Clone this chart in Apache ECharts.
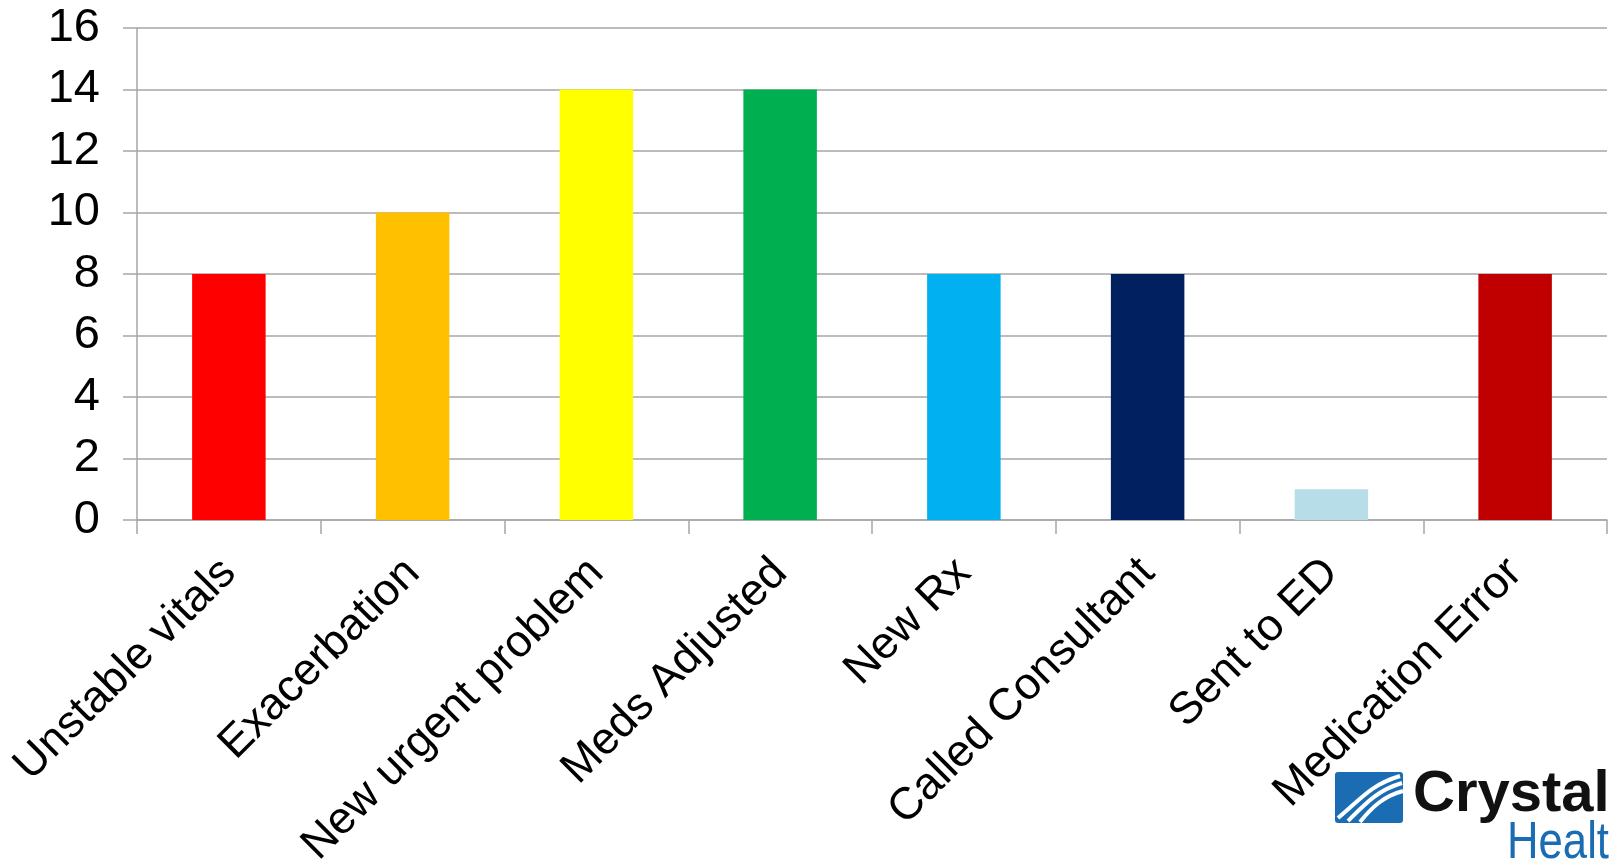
<!DOCTYPE html>
<html>
<head>
<meta charset="utf-8">
<script src="https://cdn.jsdelivr.net/npm/echarts@6/dist/echarts.min.js"></script>
<style>html,body{margin:0;padding:0;background:#fff;}#c{width:1610px;height:865px;}</style>
</head>
<body>
<div id="c"></div>
<script>
const categories = ["Unstable vitals", "Exacerbation", "New urgent problem", "Meds Adjusted", "New Rx", "Called Consultant", "Sent to ED", "Medication Error"];
const values = [8, 10, 14, 14, 8, 8, 1, 8];
const barColors = ["#FF0000", "#FFC000", "#FFFF00", "#00B050", "#00B0F0", "#002060", "#B7DEE8", "#C00000"];
const yTicks = [0, 2, 4, 6, 8, 10, 12, 14, 16];

const chart = echarts.init(document.getElementById('c'), null, {renderer: 'canvas'});
const font = '"Liberation Sans", Arial, sans-serif';
function stripe(x1, y1, cx1, cy1, cx2, cy2, x2, y2) {
  return {type: 'bezierCurve', z: 11, shape: {x1: x1, y1: y1, cpx1: cx1, cpy1: cy1, cpx2: cx2, cpy2: cy2, x2: x2, y2: y2}, style: {fill: null, stroke: '#ffffff', lineWidth: 4}};
}
chart.setOption({
  animation: false,
  backgroundColor: '#ffffff',
  grid: {left: 137, right: 3, top: 28, bottom: 345, containLabel: false, outerBoundsMode: 'none'},
  xAxis: {
    type: 'category',
    data: categories,
    axisLine: {show: true, lineStyle: {color: '#A6A6A6', width: 1.5}},
    axisTick: {show: true, length: 14, lineStyle: {color: '#A6A6A6', width: 1.5}},
    axisLabel: {rotate: 45, interval: 0, fontSize: 45, color: '#000', fontFamily: font, margin: 46}
  },
  yAxis: {
    type: 'value',
    min: yTicks[0],
    max: yTicks[yTicks.length - 1],
    interval: 2,
    axisLine: {show: true, lineStyle: {color: '#A6A6A6', width: 1.5}},
    axisTick: {show: true, length: 14, lineStyle: {color: '#A6A6A6', width: 1.5}},
    splitLine: {show: true, lineStyle: {color: '#A6A6A6', width: 1.5}},
    axisLabel: {fontSize: 47, color: '#000', fontFamily: font, margin: 37}
  },
  series: [{
    type: 'bar',
    data: values.map((v, i) => ({value: v, itemStyle: {color: barColors[i]}})),
    barCategoryGap: '60%'
  }],
  graphic: [
    {type: 'rect', z: 10, shape: {x: 1335, y: 772, width: 68, height: 51, r: 3}, style: {fill: '#1B6DB3'}},
    stripe(1338, 818, 1360, 800, 1370, 785, 1400, 776),
    stripe(1348, 821, 1366, 803, 1378, 790, 1402, 783),
    stripe(1360, 822, 1372, 807, 1384, 796, 1403, 791),
    {type: 'text', z: 10, x: 1413, y: 766, style: {text: 'Crystal', font: 'bold 58px "Liberation Sans", Arial, sans-serif', fill: '#111111'}},
    {type: 'text', z: 10, x: 1507, y: 818, scaleX: 0.84, style: {text: 'Health', font: '52px "Liberation Sans", Arial, sans-serif', fill: '#1B6DB3'}}
  ]
});
</script>
</body>
</html>
